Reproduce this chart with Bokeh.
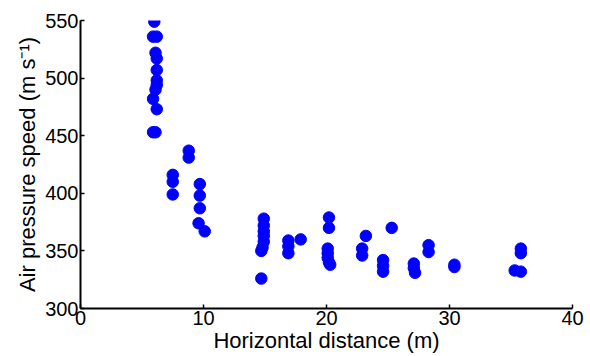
from bokeh.plotting import figure
from bokeh.models import Range1d, FixedTicker
from bokeh.embed import file_html
from bokeh.resources import INLINE

distance = [6.0, 5.9, 6.2, 6.1, 6.2, 6.2, 6.2, 6.2, 6.1, 5.9, 6.2, 5.9, 6.1,
            7.5, 7.5, 7.5, 8.8, 8.8,
            9.7, 9.7, 9.7, 9.6, 10.1,
            14.9, 14.9, 14.9, 14.9, 14.9, 14.8, 14.7, 14.7,
            16.9, 16.9, 16.9, 17.9,
            20.2, 20.2, 20.1, 20.1, 20.1, 20.2, 20.3,
            23.2, 22.9, 22.9, 25.3,
            24.6, 24.6, 24.6,
            27.1, 27.1, 27.2, 28.3, 28.3,
            30.4, 30.4,
            35.8, 35.8, 35.3, 35.8]
speed = [549, 536, 536, 522, 517, 507, 498, 494, 490, 482, 473, 453, 453,
         416, 410, 399, 437, 431,
         408, 398, 387, 374, 367,
         378, 372, 367, 363, 358, 353, 350, 326,
         359, 354, 348, 360,
         379, 370, 352, 348, 344, 340, 338,
         363, 352, 346, 370,
         342, 337, 332,
         339, 335, 331, 355, 349,
         338, 336,
         352, 348, 333, 332]

x_ticks = [0, 10, 20, 30, 40]
y_ticks = [300, 350, 400, 450, 500, 550]

p = figure(width=590, height=356, output_backend="svg", toolbar_location=None,
           x_range=Range1d(0, 40), y_range=Range1d(300, 550),
           min_border_left=80, min_border_right=18, min_border_top=20, min_border_bottom=48)
p.outline_line_color = None
p.grid.visible = False
p.background_fill_color = "white"

p.scatter(distance, speed, size=11.5, color="#0000FF", line_color="#0000FF")

font = "Liberation Sans"
for ax, ticks, label in ((p.xaxis, x_ticks, "Horizontal distance (m)"),
                         (p.yaxis, y_ticks, "Air pressure speed (m s⁻¹)")):
    ax.ticker = FixedTicker(ticks=ticks)
    ax.axis_label = label
    ax.axis_label_text_font = font
    ax.axis_label_text_font_style = "normal"
    ax.axis_label_text_font_size = "22px"
    ax.axis_label_text_color = "black"
    ax.major_label_text_font = font
    ax.major_label_text_font_size = "20px"
    ax.major_label_text_color = "black"
    ax.axis_line_width = 2
    ax.axis_line_color = "black"
    ax.major_tick_in = 4
    ax.major_tick_out = 0
    ax.major_tick_line_width = 1.5
    ax.major_tick_line_color = "black"
    ax.minor_tick_line_color = None
    ax.major_label_standoff = 2

p.xaxis.axis_label_standoff = 0
p.yaxis.axis_label_standoff = 2

open("out.html", "w").write(file_html(p, INLINE))
